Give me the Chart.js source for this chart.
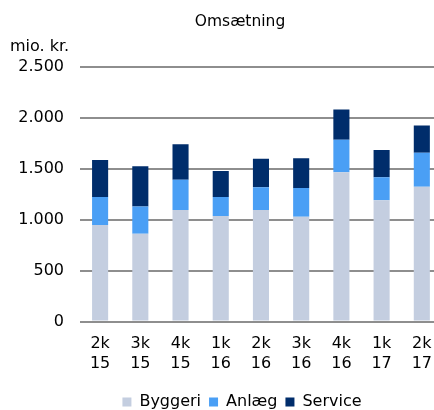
<!DOCTYPE html>
<html>
<head>
<meta charset="utf-8">
<script src="https://cdn.jsdelivr.net/npm/chart.js@4/dist/chart.umd.min.js"></script>
<style>
    html, body { margin: 0; padding: 0; overflow: hidden; background: #fff; }
    #wrap { width: 445px; height: 420px; }
</style>
</head>
<body>
<div id="wrap"><canvas id="omsaetningChart"></canvas></div>
<script>
const kvartaler = [['2k', '15'], ['3k', '15'], ['4k', '15'], ['1k', '16'], ['2k', '16'], ['3k', '16'], ['4k', '16'], ['1k', '17'], ['2k', '17']];
const byggeri = [948, 863, 1096, 1037, 1096, 1030, 1467, 1191, 1325];
const anlaeg = [276, 266, 298, 187, 223, 282, 318, 226, 332];
const service = [364, 397, 348, 256, 279, 292, 298, 269, 269];
const yTicks = [0, 500, 1000, 1500, 2000, 2500];

const fontFamily = 'Verdana, "DejaVu Sans", sans-serif';

// title and unit label, drawn at fixed spots like the original
const headerText = {
    id: 'headerText',
    afterLayout(chart) {
        // legend sits a bit right of the canvas centre in the original
        if (chart.legend) {
            chart.legend.left += 19.5;
            chart.legend.right += 19.5;
        }
    },
    afterDraw(chart) {
        const ctx = chart.ctx;
        ctx.save();
        ctx.fillStyle = '#000';
        ctx.textBaseline = 'middle';
        ctx.font = '15.5px ' + fontFamily;
        ctx.textAlign = 'center';
        ctx.fillText('Omsætning', 240, 22);
        ctx.font = '16px ' + fontFamily;
        ctx.textAlign = 'left';
        ctx.fillText('mio. kr.', 10, 47);
        ctx.restore();
    }
};

function formatDk(value) {
    return String(value).replace(/\B(?=(\d{3})+(?!\d))/g, '.');
}

const ctx = document.getElementById('omsaetningChart').getContext('2d');
new Chart(ctx, {
    type: 'bar',
    data: {
        labels: kvartaler,
        datasets: [
            {
                label: 'Byggeri',
                data: byggeri,
                backgroundColor: '#C4CEE0'
            },
            {
                label: 'Anlæg',
                data: anlaeg,
                backgroundColor: '#4A9FF5'
            },
            {
                label: 'Service',
                data: service,
                backgroundColor: '#002D6B'
            }
        ]
    },
    options: {
        responsive: true,
        maintainAspectRatio: false,
        animation: false,
        layout: {
            padding: { top: 67, right: 0, left: 0, bottom: 0 }
        },
        datasets: {
            bar: { categoryPercentage: 1, barPercentage: 0.4 }
        },
        plugins: {
            title: { display: false },
            tooltip: { enabled: false },
            legend: {
                position: 'bottom',
                labels: {
                    boxWidth: 9,
                    boxHeight: 9,
                    padding: 8,
                    color: '#000',
                    font: { family: fontFamily, size: 16 }
                }
            }
        },
        scales: {
            x: {
                stacked: true,
                grid: { display: false, drawTicks: false },
                border: { display: false },
                ticks: {
                    color: '#000',
                    padding: 13,
                    maxRotation: 0,
                    font: { family: fontFamily, size: 16, lineHeight: 1.2 }
                }
            },
            y: {
                stacked: true,
                min: 0,
                max: 2500,
                afterBuildTicks: function (scale) {
                    scale.ticks = yTicks.map(v => ({ value: v }));
                },
                afterFit: function (scale) {
                    scale.width = 80;
                },
                grid: {
                    color: '#8E8E8E',
                    lineWidth: 2,
                    drawTicks: false
                },
                border: { display: false },
                ticks: {
                    color: '#000',
                    padding: 16,
                    font: { family: fontFamily, size: 16 },
                    callback: function (value) {
                        return formatDk(value);
                    }
                }
            }
        }
    },
    plugins: [headerText]
});
</script>
</body>
</html>
